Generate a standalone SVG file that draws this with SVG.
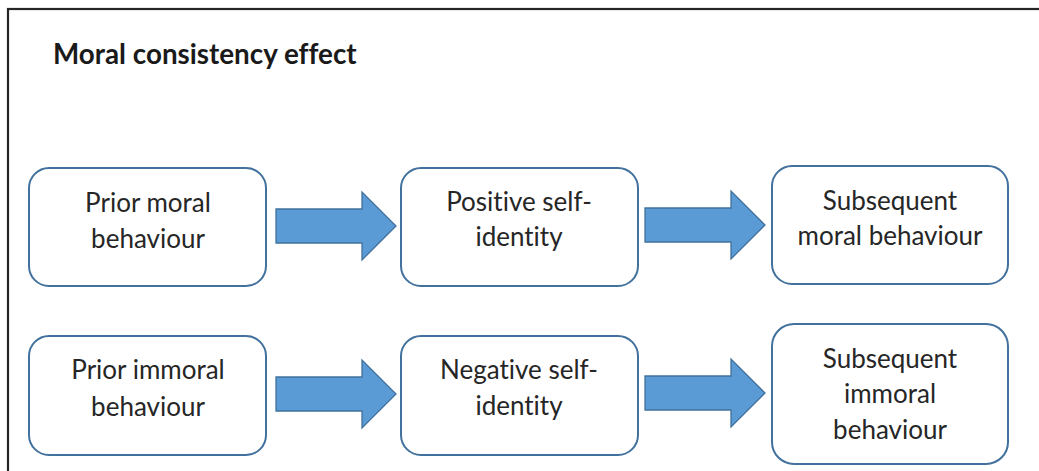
<svg xmlns="http://www.w3.org/2000/svg" width="1039" height="471" viewBox="0 0 1039 471">
  <style>
    .frame { fill: none; stroke: #262626; stroke-width: 2.2; }
    .box { fill: #ffffff; stroke: #41719c; stroke-width: 2; }
    .arrow { fill: #5b9bd5; stroke: #41719c; stroke-width: 1.3; stroke-linejoin: miter; }
    text { font-family: Lato, "Open Sans", sans-serif; font-variant-ligatures: none; font-feature-settings: "liga" 0, "clig" 0; }
    .label { font-size: 26px; fill: #262626; text-anchor: middle; }
    .title { font-size: 27.8px; font-weight: bold; fill: #1a1a1a; }
  </style>
  <defs>
    <!-- block arrow, shaft 34 high, head 68 high, 120 long -->
    <path id="blockArrow" d="M0,-17 H86 V-34 L120,0 L86,34 V17 H0 Z"/>
  </defs>
  <rect width="1039" height="471" fill="#ffffff"/>
  <!-- outer frame runs past the right and bottom edges -->
  <rect class="frame" x="8" y="9" width="1100" height="600"/>
  <text class="title" x="53" y="64">Moral consistency effect</text>

  <g id="connectors">
    <use href="#blockArrow" class="arrow" x="276" y="226"/>
    <use href="#blockArrow" class="arrow" x="645" y="225"/>
    <use href="#blockArrow" class="arrow" x="276" y="394"/>
    <use href="#blockArrow" class="arrow" x="645" y="393"/>
  </g>

  <g id="prior-moral">
    <rect class="box" x="29" y="168" width="237" height="118" rx="20"/>
    <text class="label" x="148" y="212">Prior moral</text>
    <text class="label" x="148" y="248">behaviour</text>
  </g>
  <g id="positive-identity">
    <rect class="box" x="401" y="168" width="237" height="118" rx="20"/>
    <text class="label" x="519" y="211">Positive self-</text>
    <text class="label" x="519" y="246">identity</text>
  </g>
  <g id="subsequent-moral">
    <rect class="box" x="772" y="166" width="236" height="118" rx="20"/>
    <text class="label" x="890" y="210">Subsequent</text>
    <text class="label" x="890" y="245">moral behaviour</text>
  </g>
  <g id="prior-immoral">
    <rect class="box" x="29" y="336" width="237" height="119" rx="20"/>
    <text class="label" x="148" y="379">Prior immoral</text>
    <text class="label" x="148" y="416">behaviour</text>
  </g>
  <g id="negative-identity">
    <rect class="box" x="401" y="336" width="237" height="119" rx="20"/>
    <text class="label" x="519" y="379">Negative self-</text>
    <text class="label" x="519" y="415">identity</text>
  </g>
  <g id="subsequent-immoral">
    <rect class="box" x="772" y="324" width="236" height="140" rx="22"/>
    <text class="label" x="890" y="368">Subsequent</text>
    <text class="label" x="890" y="403">immoral</text>
    <text class="label" x="890" y="439">behaviour</text>
  </g>
</svg>
